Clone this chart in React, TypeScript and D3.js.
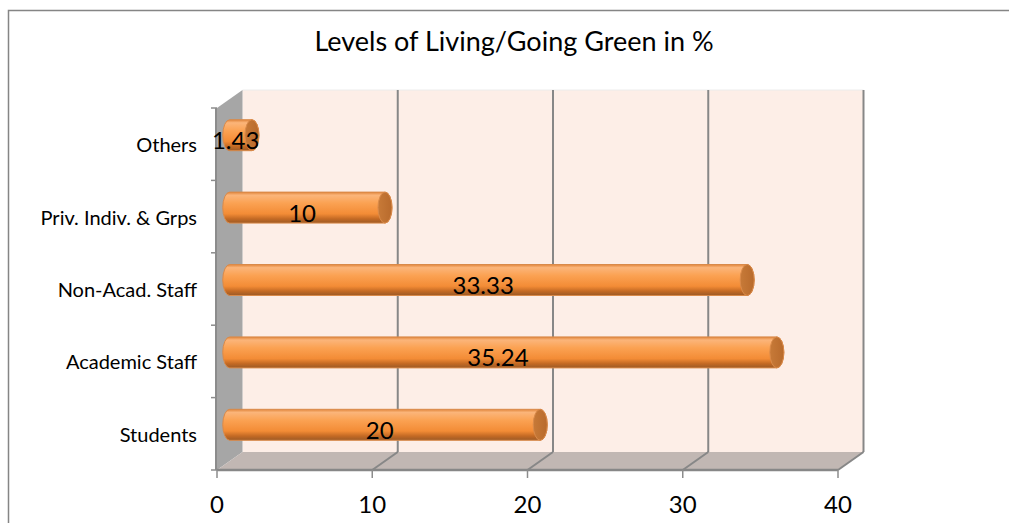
import React from "react";
import * as d3 from "d3";

// data, bottom to top as drawn
const categories = ["Students", "Academic Staff", "Non-Acad. Staff", "Priv. Indiv. & Grps", "Others"];
const values = [20, 35.24, 33.33, 10, 1.43];
const valueLabels = ["20", "35.24", "33.33", "10", "1.43"];
const xTicks = [0, 10, 20, 30, 40];
const title = "Levels of Living/Going Green in %";

const W = 1009;
const H = 523;
const FONT = "Lato, 'Open Sans', sans-serif";

export default function App() {
  // front plane of the 3d box
  const x = d3.scaleLinear().domain([0, 40]).range([217, 838]);
  const y = d3.scaleBand<string>().domain(categories).range([470, 108]);
  const dx = 25.5; // depth offset
  const dy = -18;

  const x0 = x(0);
  const xMax = x(40);
  const yBottom = 470;
  const yTop = 108;
  const barH = 31;
  const ry = barH / 2;
  const rx = 7;

  const boundaries = d3.range(categories.length + 1).map((i) => yBottom - i * y.step());

  return (
    <svg width={W} height={H} style={{ position: "absolute", left: 0, top: 0 }}>
      <defs>
        <linearGradient id="barGrad" x1="0" y1="0" x2="0" y2="1">
          <stop offset="0" stopColor="#e0843a" />
          <stop offset="0.1" stopColor="#fbb57a" />
          <stop offset="0.35" stopColor="#fba253" />
          <stop offset="0.7" stopColor="#f38c36" />
          <stop offset="0.86" stopColor="#c46a24" />
          <stop offset="1" stopColor="#9c5a26" />
        </linearGradient>
        <linearGradient id="capGrad" x1="0" y1="0" x2="1" y2="0">
          <stop offset="0" stopColor="#c77a38" />
          <stop offset="1" stopColor="#b86a2c" />
        </linearGradient>
      </defs>
      <rect x={0} y={0} width={W} height={H} fill="#fff" />
      {/* outer frame */}
      <rect x={8.5} y={10.5} width={W + 20} height={H + 20} fill="none" stroke="#858585" strokeWidth={1.5} />

      <text x={514} y={51} textAnchor="middle" fontFamily={FONT} fontSize={27} fill="#000">
        {title}
      </text>

      {/* back wall */}
      <rect x={x0 + dx} y={yTop + dy} width={xMax - x0} height={yBottom - yTop} fill="#fdeee7" />
      <line x1={x0 + dx} x2={xMax + dx} y1={yTop + dy} y2={yTop + dy} stroke="#ececec" strokeWidth={1} />
      {/* left wall */}
      <polygon
        points={`${x0},${yTop} ${x0 + dx},${yTop + dy} ${x0 + dx},${yBottom + dy} ${x0},${yBottom}`}
        fill="#a6a6a6"
      />
      {/* floor */}
      <polygon
        points={`${x0},${yBottom} ${x0 + dx},${yBottom + dy} ${xMax + dx},${yBottom + dy} ${xMax},${yBottom}`}
        fill="#c1b7b3"
      />
      {/* gridlines */}
      {xTicks.slice(1).map((t) => (
        <g key={t} stroke="#878787" strokeWidth={2}>
          <line x1={x(t) + dx} x2={x(t) + dx} y1={yTop + dy} y2={yBottom + dy} />
          <line x1={x(t)} x2={x(t) + dx} y1={yBottom} y2={yBottom + dy} />
        </g>
      ))}
      <line x1={x0} x2={xMax} y1={yBottom} y2={yBottom} stroke="#878787" strokeWidth={2.5} />
      <line x1={x0 - 1} x2={x0 - 1} y1={yTop} y2={yBottom} stroke="#8c8c8c" strokeWidth={2} />

      {/* axis ticks */}
      {boundaries.map((b, i) => (
        <line key={i} x1={x0 - 6} x2={x0} y1={b} y2={b} stroke="#8c8c8c" strokeWidth={1.5} />
      ))}
      {xTicks.map((t) => (
        <g key={t}>
          <line x1={x(t)} x2={x(t)} y1={yBottom} y2={yBottom + 8} stroke="#8c8c8c" strokeWidth={1.5} />
          <text x={x(t)} y={513} textAnchor="middle" fontFamily={FONT} fontSize={24} fill="#000">
            {t}
          </text>
        </g>
      ))}

      {/* category labels */}
      {categories.map((c) => (
        <text
          key={c}
          x={197}
          y={(y(c) ?? 0) + y.bandwidth() / 2 + 8}
          textAnchor="end"
          fontFamily={FONT}
          fontSize={20}
          fill="#000"
        >
          {c}
        </text>
      ))}

      {/* cylinder bars */}
      {categories.map((c, i) => {
        const cy = (y(c) ?? 0) + y.bandwidth() / 2 + dy / 2;
        const bx0 = x0 + dx / 2;
        const bx1 = x(values[i]) + dx / 2;
        const top = cy - ry;
        const bot = cy + ry;
        const body = `M${bx0},${top} L${bx1},${top} A${rx},${ry} 0 0 1 ${bx1},${bot} L${bx0},${bot} A${rx},${ry} 0 0 1 ${bx0},${top} Z`;
        return (
          <g key={c}>
            <path d={body} fill="url(#barGrad)" stroke="#d98a4a" strokeWidth={1} />
            <ellipse cx={bx1} cy={cy} rx={rx} ry={ry} fill="url(#capGrad)" stroke="#d98a4a" strokeWidth={1} />
            <text
              x={(x0 + x(values[i])) / 2 + 7.5}
              y={cy + 14}
              textAnchor="middle"
              fontFamily={FONT}
              fontSize={24}
              fill="#000"
            >
              {valueLabels[i]}
            </text>
          </g>
        );
      })}
    </svg>
  );
}
